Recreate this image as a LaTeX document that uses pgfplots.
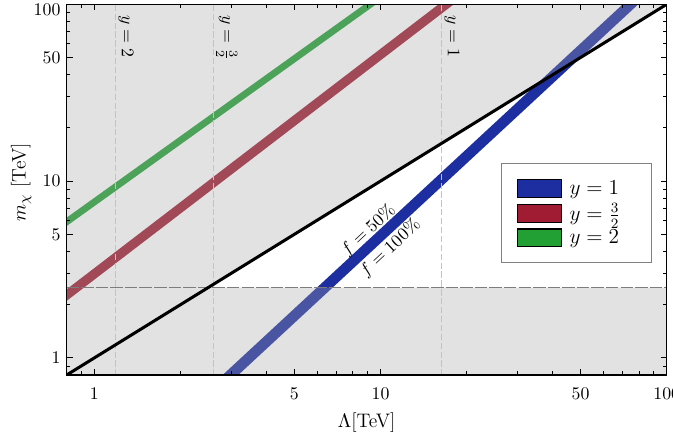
\documentclass[border=0pt]{standalone}
\usepackage{pgfplots}
\pgfplotsset{compat=1.18}

\definecolor{bandblue}{RGB}{28,46,160}
\definecolor{bandred}{RGB}{160,28,50}
\definecolor{bandgreen}{RGB}{34,160,52}
\definecolor{shade}{RGB}{167,167,167}
\definecolor{vline}{RGB}{195,195,195}
\definecolor{hline}{RGB}{125,125,125}

\begin{document}
\begin{tikzpicture}
% page is exactly the reference's frame around the axis box
\useasboundingbox (-37.5pt,-32pt) rectangle (341pt,210.9pt);
\begin{axis}[
    xmode=log, ymode=log,
    scale only axis,
    width=337.5pt, height=208.5pt,
    xmin=0.8, xmax=100, ymin=0.8, ymax=100,
    xtick={1,5,10,50,100}, xticklabels={1,5,10,50,100},
    ytick={1,5,10,50,100}, yticklabels={1,5,10,50,\raisebox{-6.2pt}[0pt][0pt]{100}},
    minor xtick={0.9,2,3,4,6,7,8,9,20,30,40,60,70,80,90},
    minor ytick={0.9,2,3,4,6,7,8,9,20,30,40,60,70,80,90},
    tick align=inside, xtick pos=both, ytick pos=both,
    major tick length=3.4pt, minor tick length=2pt,
    axis line style={line width=0.8pt},
    every tick/.style={black, line width=0.5pt},
    xticklabel style={yshift=-3.8pt},
    axis on top,
    xlabel={\fontsize{11}{13}\selectfont $\Lambda$[TeV]},
    ylabel={\fontsize{11}{13}\selectfont $m_\chi$ [TeV]},
    ylabel style={at={(ticklabel cs:0.52)}},
    ylabel shift=-5.5pt,
    legend cell align=left,
    legend image code/.code={\fill[#1] (0pt,-5pt) rectangle (24.7pt,5pt); \path (28pt,0pt);},
    legend style={at={(rel axis cs:0.724,0.571)}, anchor=north west,
        draw=gray, line width=0.6pt, fill=white, font=\fontsize{12}{14}\selectfont,
        inner xsep=8.6pt, inner ysep=8.4pt, row sep=1.5pt,
        nodes={inner sep=1pt}},
]
% bands (f = 50% .. 100%), fill closes each outline
\addplot[draw=none, fill=bandblue, forget plot] coordinates {(2.5,0.673) (100,170) (100,141) (2.5,0.557)};
\addplot[draw=none, fill=bandred, forget plot] coordinates {(0.7,2.07) (25,174.6) (25,150) (0.7,1.78)};
\addplot[draw=none, fill=bandgreen, forget plot] coordinates {(0.7,5.32) (12,143.5) (12,128.7) (0.7,4.77)};

% excluded region, laid over the bands
\addplot[draw=none, fill=shade, fill opacity=0.33, forget plot] coordinates {(0.5,0.5) (200,0.5) (200,2.5) (2.5,2.5) (200,200) (0.5,200)};

% guide lines
\addplot[vline, line width=0.6pt, dash pattern=on 3.5pt off 1.5pt, forget plot] coordinates {(1.185,0.5) (1.185,200)};
\addplot[vline, line width=0.6pt, dash pattern=on 3.5pt off 1.5pt, forget plot] coordinates {(2.6,0.5) (2.6,200)};
\addplot[vline, line width=0.6pt, dash pattern=on 3.5pt off 1.5pt, forget plot] coordinates {(16.3,0.5) (16.3,200)};
\addplot[hline, line width=0.9pt, dash pattern=on 7pt off 1.2pt, forget plot] coordinates {(0.5,2.5) (200,2.5)};
\addplot[black, line width=1.7pt, forget plot] coordinates {(0.5,0.5) (200,200)};

\node[rotate=-90, anchor=south west, inner sep=1.5pt] at (axis cs:1.185,90) {$y=2$};
\node[rotate=-90, anchor=south west, inner sep=1.5pt] at (axis cs:2.6,90) {$y=\frac{3}{2}$};
\node[rotate=-90, anchor=south west, inner sep=1.5pt] at (axis cs:16.3,90) {$y=1$};
\node[rotate=43] at (axis cs:9.06,5.28) {$f=50\%$};
\node[rotate=43] at (axis cs:10.8,4.18) {$f=100\%$};

\addlegendimage{fill=bandblue}
\addlegendentry{$y=1$\rule{8.5pt}{0pt}}
\addlegendimage{fill=bandred}
\addlegendentry{$y=\frac{3}{2}$}
\addlegendimage{fill=bandgreen}
\addlegendentry{$y=2$}
\end{axis}
\end{tikzpicture}
\end{document}
